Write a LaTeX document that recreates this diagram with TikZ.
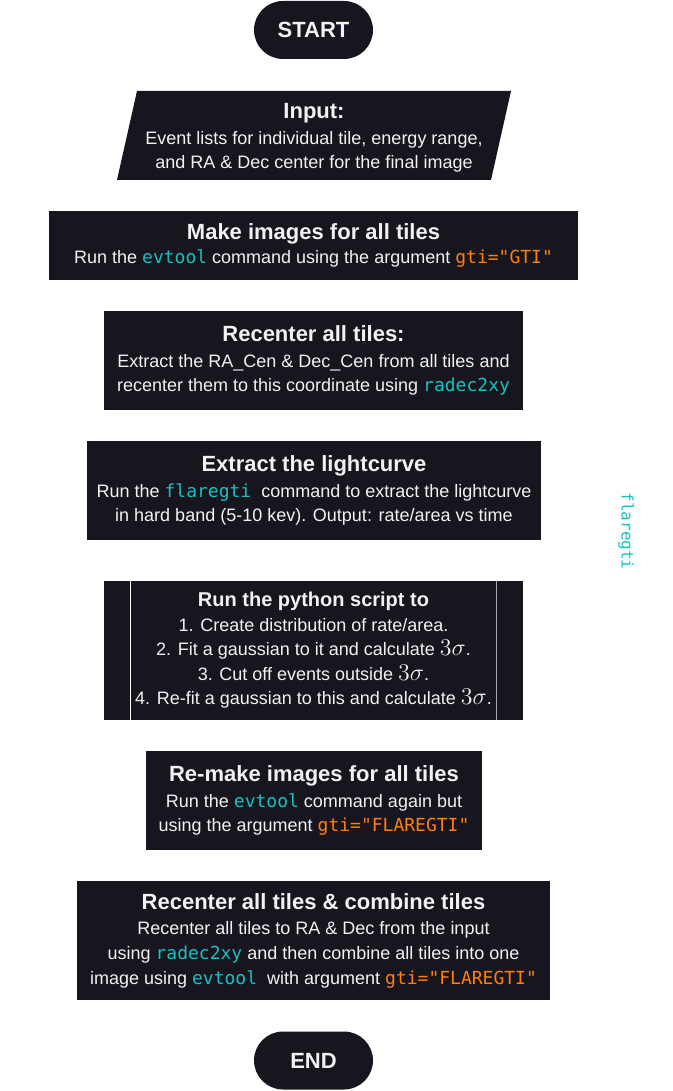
\documentclass[tikz,border=0pt]{standalone}
\usepackage{fontspec}
\setmainfont{Liberation Sans}
\setmonofont{DejaVu Sans Mono}
\definecolor{boxc}{HTML}{17151E}
\definecolor{tealc}{HTML}{14C2C2}
\definecolor{orangec}{HTML}{FF7F0E}
\definecolor{txtc}{HTML}{F2F2F2}
\newcommand\ttl[1]{{\fontsize{16.5}{20}\selectfont\bfseries #1}}
\newcommand\cmdA[1]{{\ttfamily\color{tealc}#1}}
\newcommand\cmdB[1]{{\ttfamily\color{orangec}#1}}
\newcommand\tsig{\scalebox{1.25}{$3\sigma$}}
\begin{document}
\begin{tikzpicture}[x=0.75pt,y=-0.75pt,
  every node/.style={text=txtc, font=\fontsize{13.5}{18.4}\selectfont, align=center, inner sep=0pt},
  procbox/.style={fill=boxc, rectangle, minimum width=#1},
  termbox/.style={fill=boxc, rectangle, rounded corners=21.75pt, minimum width=89.25pt, minimum height=43.5pt, font=\fontsize{16.5}{20}\selectfont\bfseries}
]
\useasboundingbox (0,0) rectangle (672,1091);
% START
\node[termbox] (start) at (313.5,30) {START};
% Input parallelogram
\fill[boxc] (137,91) -- (511,91) -- (491,180) -- (117,180) -- cycle;
\node (input) at (314,138) {\ttl{Input:}\\[1pt] Event lists for individual tile, energy range,\\ and RA \& Dec center for the final image};
% Make images
\node[procbox=396.75pt, minimum height=51.75pt] (make) at (313.5,245.5) {\ttl{Make images for all tiles}\\[0pt] Run the \cmdA{evtool} command using the argument \cmdB{gti="GTI"}};
% Recenter
\node[procbox=314.25pt, minimum height=74.25pt] (recenter) at (313.5,360.5) {\ttl{Recenter all tiles:}\\[1pt] Extract the RA\_Cen \& Dec\_Cen from all tiles and\\ recenter them to this coordinate using \cmdA{radec2xy}};
% Extract
\node[procbox=340.5pt, minimum height=74.25pt] (extract) at (314,490.5) {\ttl{Extract the lightcurve}\\[1pt] Run the \cmdA{flaregti}\ \ command to extract the lightcurve\\ in hard band (5-10 kev). Output: rate/area vs time};
% Python predefined process
\node[procbox=314.25pt, minimum height=104.25pt] (python) at (313.5,650.5) {{\bfseries\fontsize{15}{18}\selectfont Run the python script to}\\ 1. Create distribution of rate/area.\\ 2. Fit a gaussian to it and calculate \tsig.\\ 3. Cut off events outside \tsig.\\ 4. Re-fit a gaussian to this and calculate \tsig.};
\draw[white, line width=1pt] ([xshift=20.25pt]python.north west) -- ([xshift=20.25pt]python.south west);
\draw[gray!70, line width=1pt] ([xshift=-20.25pt]python.north east) -- ([xshift=-20.25pt]python.south east);
% Re-make
\node[procbox=252pt, minimum height=74.25pt] (remake) at (314,800.5) {\ttl{Re-make images for all tiles}\\[1pt] Run the \cmdA{evtool} command again but\\ using the argument \cmdB{gti="FLAREGTI"}};
% Recenter combine
\node[procbox=354.75pt, minimum height=89.25pt] (combine) at (313.5,940.5) {\ttl{Recenter all tiles \& combine tiles}\\[1pt] Recenter all tiles to RA \& Dec from the input\\ using \cmdA{radec2xy} and then combine all tiles into one\\ image using \cmdA{evtool}\ \ with argument \cmdB{gti="FLAREGTI"}};
% END
\node[termbox] (end) at (313.5,1060.5) {END};
% side label
\node[rotate=-90, text=tealc, font=\ttfamily\fontsize{12}{14}\selectfont] (fl) at (626,531) {flaregti};
\end{tikzpicture}
\end{document}
